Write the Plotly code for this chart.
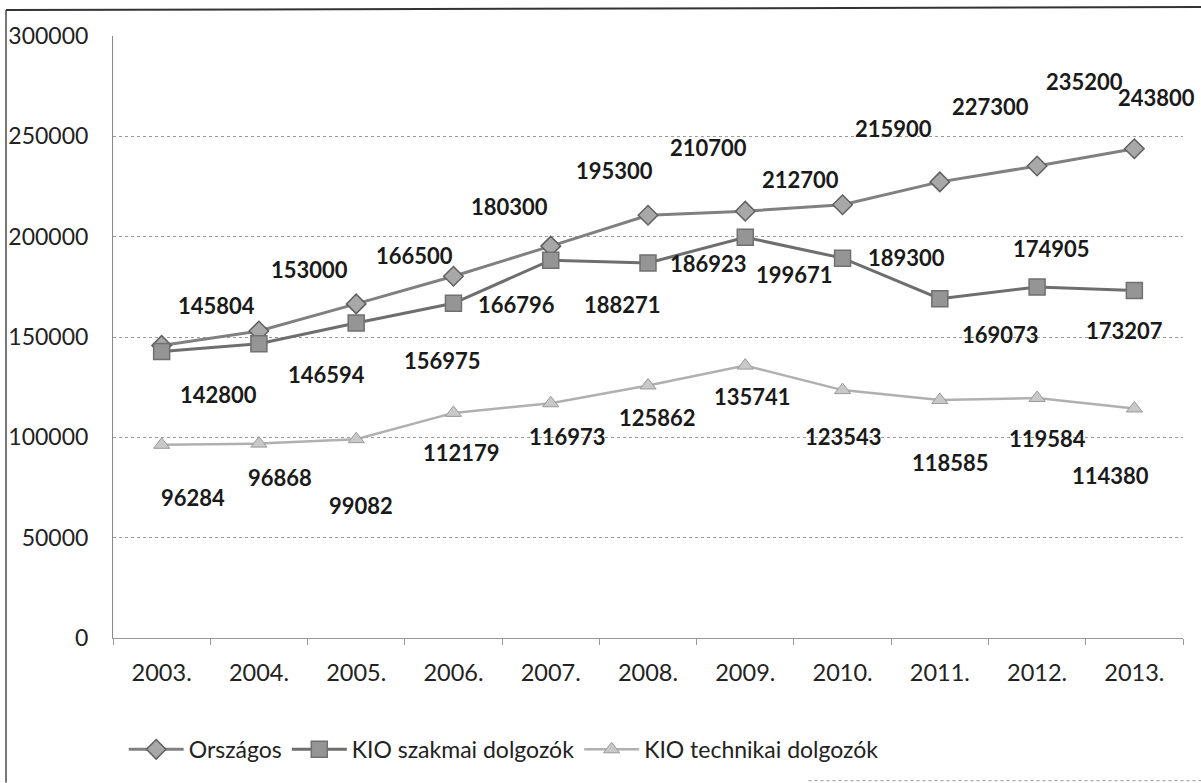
import plotly.graph_objects as go

years = ["2003.", "2004.", "2005.", "2006.", "2007.", "2008.", "2009.", "2010.", "2011.", "2012.", "2013."]
orszagos = [145804, 153000, 166500, 180300, 195300, 210700, 212700, 215900, 227300, 235200, 243800]
szakmai = [142800, 146594, 156975, 166796, 188271, 186923, 199671, 189300, 169073, 174905, 173207]
technikai = [96284, 96868, 99082, 112179, 116973, 125862, 135741, 123543, 118585, 119584, 114380]
y_ticks = [0, 50000, 100000, 150000, 200000, 250000, 300000]

# label offsets in pixels (dx right, dy down)
orsz_dx = [55, 51, 58, 56, 64, 60, 55, 51, 51, 47, 22]
orsz_dy = [-40, -61, -48, -70, -76, -68, -32, -76, -75, -85, -51]
szak_dx = [57, 68, 86, 63, 72, 60, 49, 64, 61, 14, -10]
szak_dy = [43, 31, 37, 1, 44, 1, 37, -1, 36, -39, 40]
tech_dx = [31, 21, 5, 8, 17, 9, 7, 1, 11, 10, -24]
tech_dy = [53, 34, 66, 40, 33, 32, 31, 46, 62, 40, 67]

FONT = "Lato"

fig = go.Figure()
fig.add_trace(go.Scatter(
    x=years, y=orszagos, name="Országos", mode="lines+markers",
    line=dict(color="#808080", width=3),
    marker=dict(symbol="diamond", size=15, color="#a8a8a8", line=dict(color="#606060", width=1.5)),
))
fig.add_trace(go.Scatter(
    x=years, y=szakmai, name="KIO szakmai dolgozók", mode="lines+markers",
    line=dict(color="#6e6e6e", width=3),
    marker=dict(symbol="square", size=16, color="#959595", line=dict(color="#707070", width=1.5)),
))
fig.add_trace(go.Scatter(
    x=years, y=technikai, name="KIO technikai dolgozók", mode="lines+markers",
    line=dict(color="#b0b0b0", width=2.5),
    marker=dict(symbol="triangle-up", size=14, color="#c8c8c8", line=dict(color="#9a9a9a", width=1)),
))

annotations = []
for vals, dxs, dys in [(orszagos, orsz_dx, orsz_dy), (szakmai, szak_dx, szak_dy), (technikai, tech_dx, tech_dy)]:
    for i, (v, dx, dy) in enumerate(zip(vals, dxs, dys)):
        annotations.append(dict(
            x=i, y=v, xref="x", yref="y", text=str(v), showarrow=False, xshift=dx, yshift=-dy,
            font=dict(family=FONT, size=22, color="#1a1a1a", weight="bold"),
        ))

# scanned frame lines
shapes = [
    dict(type="line", xref="paper", yref="paper", x0=-0.1, x1=-0.1, y0=-0.24, y1=1.043,
         line=dict(color="#777", width=2)),
    dict(type="line", xref="paper", yref="paper", x0=-0.1, x1=1.02, y0=1.043, y1=1.048,
         line=dict(color="#333", width=2)),
    dict(type="line", xref="paper", yref="paper", x0=0.65, x1=1.02, y0=-0.237, y1=-0.237,
         line=dict(color="#999", width=1, dash="dot")),
]

fig.update_layout(
    width=1201, height=783,
    margin=dict(l=113, r=18, t=36, b=145),
    paper_bgcolor="white", plot_bgcolor="white",
    font=dict(family=FONT, size=22, color="#222"),
    showlegend=True,
    legend=dict(orientation="h", x=0.01, xanchor="left", y=-0.185, yanchor="middle",
                font=dict(family=FONT, size=23, color="#222"), itemwidth=55,
                traceorder="normal", bgcolor="rgba(0,0,0,0)"),
    annotations=annotations,
    shapes=shapes,
)
fig.update_xaxes(
    type="category", range=[-0.5, 10.5], showgrid=False, automargin=False,
    showline=True, linecolor="#999", linewidth=1,
    ticks="outside", tickson="boundaries", ticklen=6, tickcolor="#999",
    ticklabelstandoff=14, tickfont=dict(family=FONT, size=23.5, color="#222"),
    zeroline=False,
)
fig.update_yaxes(
    range=[0, 300000], tickvals=y_ticks, ticktext=[str(t) for t in y_ticks],
    showgrid=True, gridcolor="#9a9a9a", griddash="dot", gridwidth=1, automargin=False,
    showline=True, linecolor="#888", linewidth=1,
    ticks="", ticklabelstandoff=19, tickfont=dict(family=FONT, size=23, color="#222"),
    zeroline=False,
)

fig.write_html("out.html", config={"displayModeBar": False},
               post_script="document.body.style.margin='0';document.body.style.overflow='hidden';")
